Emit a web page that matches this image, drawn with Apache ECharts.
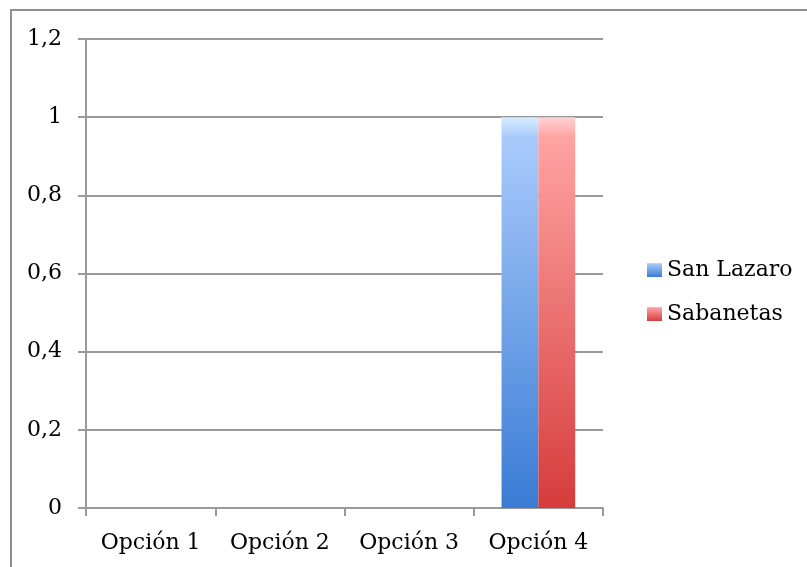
<!DOCTYPE html>
<html>
<head>
<meta charset="utf-8">
<script src="https://cdn.jsdelivr.net/npm/echarts@6/dist/echarts.min.js"></script>
<style>
html,body{margin:0;padding:0;background:#fff;}
#chart{width:807px;height:567px;}
#frame{position:absolute;left:10px;top:9px;width:820px;height:600px;border-left:2px solid #8f8f8f;border-top:2px solid #8f8f8f;pointer-events:none;}
</style>
</head>
<body>
<div id="chart"></div>
<div id="frame"></div>
<script>
const categories = ['Opción 1', 'Opción 2', 'Opción 3', 'Opción 4'];
const seriesNames = ['San Lazaro', 'Sabanetas'];
const sanLazaro = [0, 0, 0, 1];
const sabanetas = [0, 0, 0, 1];

const FONT = 'DejaVu Serif';
function grad(top, mid, bottom) {
  return new echarts.graphic.LinearGradient(0, 0, 0, 1, [
    {offset: 0, color: top},
    {offset: 0.05, color: mid},
    {offset: 1, color: bottom}
  ]);
}
const chart = echarts.init(document.getElementById('chart'));
chart.setOption({
  backgroundColor: '#fff',
  animation: false,
  grid: {left: 86, right: 204, top: 39, bottom: 59, containLabel: false},
  legend: {
    orient: 'vertical', left: 647, top: 259, padding: 0,
    itemWidth: 15, itemHeight: 14, itemGap: 22,
    icon: 'rect',
    textStyle: {fontFamily: FONT, fontSize: 22, color: '#000'},
    data: seriesNames
  },
  xAxis: {
    type: 'category', data: categories,
    axisLine: {lineStyle: {color: '#999', width: 2}},
    axisTick: {show: true, length: 8, interval: 0, lineStyle: {color: '#999', width: 2}},
    axisLabel: {fontFamily: FONT, fontSize: 22, color: '#000', margin: 24, interval: 0}
  },
  yAxis: {
    type: 'value', min: 0, max: 1.2, interval: 0.2,
    axisLine: {show: true, lineStyle: {color: '#999', width: 2}},
    axisTick: {show: true, length: 8, lineStyle: {color: '#999', width: 2}},
    splitLine: {lineStyle: {color: '#999', width: 2}},
    axisLabel: {fontFamily: FONT, fontSize: 22, color: '#000', margin: 24,
      formatter: v => (Math.round(v * 10) / 10).toString().replace('.', ',')}
  },
  series: [
    {name: seriesNames[0], type: 'bar', data: sanLazaro, barGap: '0%', barCategoryGap: '43%',
     itemStyle: {color: grad('#d8ecff', '#a9cbfb', '#3a7bd5'), borderWidth: 0}},
    {name: seriesNames[1], type: 'bar', data: sabanetas,
     itemStyle: {color: grad('#ffd4d4', '#ffa3a3', '#d63c3c'), borderWidth: 0}}
  ]
});
</script>
</body>
</html>
